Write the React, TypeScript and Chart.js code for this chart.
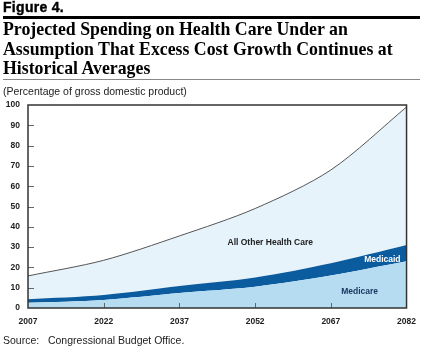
import React, { useEffect, useRef } from "react";
import { Chart, registerables } from "chart.js";

Chart.register(...registerables);

const years = [2007, 2022, 2037, 2052, 2067, 2082];
const medicare = [2.6, 4.0, 7.4, 10.5, 16.0, 23.0];
const medicaid = [1.7, 2.4, 3.4, 4.5, 6.0, 8.0];
const allOther = [11.5, 17.1, 24.7, 34.0, 46.0, 68.0];
const yTicks = [0, 10, 20, 30, 40, 50, 60, 70, 80, 90, 100];
const xTicks = [2007, 2022, 2037, 2052, 2067, 2082];

const SANS = "'Liberation Sans', Arial, sans-serif";

const framePlugin = {
  id: "frame",
  afterDatasetsDraw(chart: any) {
    const { ctx, chartArea, scales } = chart;
    const x = scales.x;
    const y = scales.y;
    ctx.save();
    ctx.strokeStyle = "#666";
    ctx.lineWidth = 1;
    yTicks.forEach((v) => {
      if (v === 0 || v === 100) return;
      const py = Math.round(y.getPixelForValue(v)) + 0.5;
      ctx.beginPath();
      ctx.moveTo(chartArea.left, py);
      ctx.lineTo(chartArea.left + 6, py);
      ctx.stroke();
    });
    xTicks.forEach((v, i) => {
      if (i === 0 || i === xTicks.length - 1) return;
      const px = Math.round(x.getPixelForValue(v)) + 0.5;
      ctx.beginPath();
      ctx.moveTo(px, chartArea.bottom);
      ctx.lineTo(px, chartArea.bottom - 5);
      ctx.stroke();
    });
    ctx.font = `bold 8.5px ${SANS}`;
    ctx.textAlign = "center";
    ctx.textBaseline = "middle";
    ctx.fillStyle = "#222";
    ctx.fillText("All Other Health Care", x.getPixelForValue(2055), y.getPixelForValue(32));
    ctx.fillStyle = "#ffffff";
    ctx.fillText("Medicaid", x.getPixelForValue(2077.2), y.getPixelForValue(23.6));
    ctx.fillStyle = "#1b3a63";
    ctx.fillText("Medicare", x.getPixelForValue(2072.7), y.getPixelForValue(8.1));
    ctx.strokeStyle = "#333";
    ctx.lineWidth = 1.5;
    ctx.strokeRect(chartArea.left, chartArea.top, chartArea.right - chartArea.left, chartArea.bottom - chartArea.top);
    ctx.restore();
  },
};

function ChartCanvas() {
  const ref = useRef<HTMLCanvasElement | null>(null);
  useEffect(() => {
    if (!ref.current) return;
    const toPts = (arr: number[]) => years.map((yr, i) => ({ x: yr, y: arr[i] }));
    const chart = new Chart(ref.current, {
      type: "line",
      data: {
        datasets: [
          {
            label: "Medicare",
            data: toPts(medicare),
            backgroundColor: "#b6dcf1",
            borderWidth: 0,
            pointRadius: 0,
            fill: "origin",
            tension: 0.3,
          },
          {
            label: "Medicaid",
            data: toPts(medicaid),
            backgroundColor: "#0b5b9f",
            borderColor: "#0b5b9f",
            borderWidth: 0,
            pointRadius: 0,
            fill: "-1",
            tension: 0.3,
          },
          {
            label: "All Other Health Care",
            data: toPts(allOther),
            backgroundColor: "#e6f3fb",
            borderColor: "#555",
            borderWidth: 1,
            pointRadius: 0,
            fill: "-1",
            tension: 0.3,
          },
        ],
      },
      options: {
        animation: false,
        responsive: false,
        maintainAspectRatio: false,
        layout: { padding: { top: 105, right: 18, bottom: 20, left: 0 } },
        plugins: { legend: { display: false }, tooltip: { enabled: false } },
        scales: {
          x: {
            type: "linear",
            min: 2007,
            max: 2082,
            afterBuildTicks: (s: any) => {
              s.ticks = xTicks.map((v) => ({ value: v }));
            },
            afterFit: (s: any) => {
              s.height = 22;
            },
            grid: { display: false, drawTicks: false },
            border: { display: false },
            ticks: {
              padding: 9,
              color: "#222",
              font: { family: SANS, size: 8.5, weight: "bold" },
              maxRotation: 0,
              autoSkip: false,
              callback: (v: any) => String(v),
            },
          },
          y: {
            stacked: true,
            min: 0,
            max: 100,
            afterBuildTicks: (s: any) => {
              s.ticks = yTicks.map((v) => ({ value: v }));
            },
            afterFit: (s: any) => {
              s.width = 28;
            },
            grid: { display: false, drawTicks: false },
            border: { display: false },
            ticks: {
              padding: 8,
              color: "#222",
              font: { family: SANS, size: 8.5, weight: "bold" },
            },
          },
        },
      },
      plugins: [framePlugin],
    } as any);
    return () => chart.destroy();
  }, []);
  return (
    <canvas
      ref={ref}
      width={425}
      height={350}
      style={{ position: "absolute", left: 0, top: 0, width: 425, height: 350 }}
    />
  );
}

export default function App() {
  return (
    <div
      style={{
        position: "absolute",
        left: 0,
        top: 0,
        width: 425,
        height: 350,
        background: "#fff",
        overflow: "hidden",
      }}
    >
      <ChartCanvas />
      <div
        style={{
          position: "absolute",
          left: 3,
          top: 0,
          fontFamily: SANS,
          fontWeight: 900,
          fontSize: 14,
          lineHeight: "15px",
          color: "#000",
          letterSpacing: 0.3,
          WebkitTextStroke: "0.4px #000",
        }}
      >
        Figure 4.
      </div>
      <div style={{ position: "absolute", left: 3, top: 16, width: 417, height: 3, background: "#000" }} />
      <div
        style={{
          position: "absolute",
          left: 3,
          top: 20,
          width: 420,
          fontFamily: "'Liberation Serif', 'Times New Roman', serif",
          fontWeight: "bold",
          fontSize: 17.8,
          lineHeight: "19.5px",
          color: "#000",
          whiteSpace: "nowrap",
        }}
      >
        Projected Spending on Health Care Under an
        <br />
        Assumption That Excess Cost Growth Continues at
        <br />
        Historical Averages
      </div>
      <div style={{ position: "absolute", left: 3, top: 79, width: 417, height: 1, background: "#888" }} />
      <div
        style={{
          position: "absolute",
          left: 3,
          top: 85,
          fontFamily: SANS,
          fontSize: 10.5,
          lineHeight: "13px",
          color: "#222",
          whiteSpace: "nowrap",
        }}
      >
        (Percentage of gross domestic product)
      </div>
      <div
        style={{
          position: "absolute",
          left: 3,
          top: 334,
          fontFamily: SANS,
          fontSize: 10.5,
          lineHeight: "13px",
          color: "#222",
          whiteSpace: "pre",
        }}
      >
        {"Source:   Congressional Budget Office."}
      </div>
    </div>
  );
}
